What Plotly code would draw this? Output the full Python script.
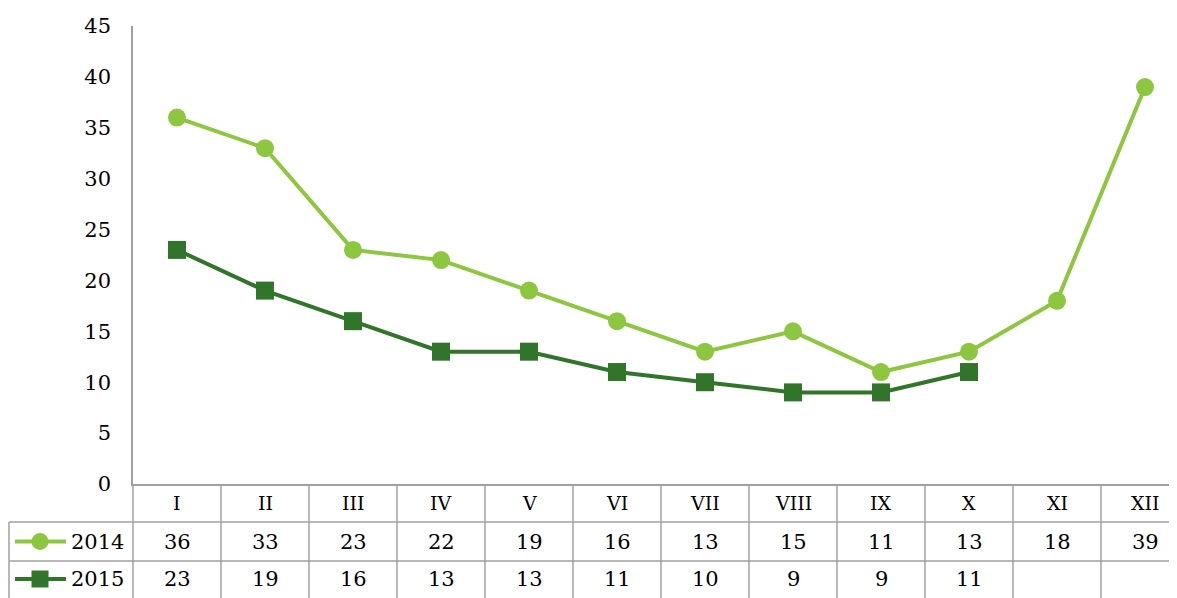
import plotly.graph_objects as go

# ---- data ----
months = ["I", "II", "III", "IV", "V", "VI", "VII", "VIII", "IX", "X", "XI", "XII"]
y2014 = [36, 33, 23, 22, 19, 16, 13, 15, 11, 13, 18, 39]
y2015 = [23, 19, 16, 13, 13, 11, 10, 9, 9, 11, None, None]
series_names = ["2014", "2015"]
ytick_vals = [0, 5, 10, 15, 20, 25, 30, 35, 40, 45]

# ---- style ----
OFF = 8  # page body margin
SW, SH = 1177, 598  # screen size
W, H = SW - OFF, SH - OFF
AX_L, AX_T, AX_B = 133, 26, 484  # screen pixels
ML, MT, MB = AX_L - OFF, AX_T - OFF, SH - AX_B
C14 = "#8DC63F"
C15 = "#31752A"
GRID = "#a0a0a0"
FONT = "DejaVu Serif"
FS_NUM = 21
FS_ROM = 19
XR = [-0.5, -0.5 + (SW - AX_L) / 88.0]

fig = go.Figure()
fig.add_trace(go.Scatter(x=months, y=y2014, name=series_names[0], mode="lines+markers",
                         line=dict(color=C14, width=4), marker=dict(symbol="circle", size=18, color=C14),
                         cliponaxis=False))
fig.add_trace(go.Scatter(x=months, y=y2015, name=series_names[1], mode="lines+markers",
                         line=dict(color=C15, width=4), marker=dict(symbol="square", size=18, color=C15),
                         cliponaxis=False))

plot_w = W - ML
plot_h = H - MT - MB


def px_x(i):
    return (i - XR[0]) / (XR[1] - XR[0])


def pix_x(p):  # screen x -> paper
    return (p - AX_L) / plot_w


def pix_y(p):  # screen y -> paper
    return (AX_B - p) / plot_h


shapes = []
y_top = pix_y(485)
y_r1 = pix_y(522)
y_r2 = pix_y(561)
y_bot = pix_y(600)
for k in range(len(months) + 1):
    xx = px_x(k - 0.5)
    if xx <= 1.0:
        shapes.append(dict(type="line", xref="paper", yref="paper", x0=xx, x1=xx, y0=y_top, y1=y_bot,
                           line=dict(color=GRID, width=1.5)))
shapes.append(dict(type="line", xref="paper", yref="paper", x0=pix_x(9), x1=pix_x(9), y0=y_r1, y1=y_bot,
                   line=dict(color=GRID, width=1.5)))
for yy in (y_r1, y_r2):
    shapes.append(dict(type="line", xref="paper", yref="paper", x0=pix_x(9), x1=1, y0=yy, y1=yy,
                       line=dict(color=GRID, width=1.5)))

annotations = []
row_y = [pix_y(503.5), pix_y(541.5), pix_y(579)]
for i, m in enumerate(months):
    annotations.append(dict(x=i, y=row_y[0], xref="x", yref="paper", text=m, showarrow=False,
                            font=dict(family=FONT, size=FS_ROM, color="black"), yanchor="middle"))
for r, vals in enumerate([y2014, y2015]):
    for i, v in enumerate(vals):
        if v is not None:
            annotations.append(dict(x=i, y=row_y[r + 1], xref="x", yref="paper", text=str(v), showarrow=False,
                                    font=dict(family=FONT, size=FS_NUM, color="black"), yanchor="middle"))

# legend keys in table
for r, (nm, col, sym) in enumerate([(series_names[0], C14, "circle"), (series_names[1], C15, "rect")]):
    yc = row_y[r + 1]
    shapes.append(dict(type="line", xref="paper", yref="paper", x0=pix_x(15), x1=pix_x(66), y0=yc, y1=yc,
                       line=dict(color=col, width=4)))
    half = 8.5
    shapes.append(dict(type="circle" if sym == "circle" else "rect", xref="paper", yref="paper",
                       x0=pix_x(40 - half), x1=pix_x(40 + half), y0=yc - half / plot_h, y1=yc + half / plot_h,
                       fillcolor=col, line=dict(width=0)))
    annotations.append(dict(x=pix_x(69), y=yc, xref="paper", yref="paper", text=nm, showarrow=False,
                            xanchor="left", yanchor="middle", font=dict(family=FONT, size=FS_NUM, color="black")))

fig.update_layout(
    width=W, height=H,
    margin=dict(l=ML, r=0, t=MT, b=MB, pad=0),
    paper_bgcolor="white", plot_bgcolor="white",
    showlegend=False,
    font=dict(family=FONT, size=FS_NUM, color="black"),
    xaxis=dict(type="category", range=XR, showticklabels=False, showgrid=False, zeroline=False,
               showline=True, linecolor=GRID, linewidth=1.5, ticks=""),
    yaxis=dict(range=[0, 45], tickvals=ytick_vals, showgrid=False, zeroline=False, showline=True,
               linecolor=GRID, linewidth=1.5, ticks="", ticklabelstandoff=16,
               tickfont=dict(family=FONT, size=FS_NUM, color="black")),
    shapes=shapes, annotations=annotations,
)

fig.write_html("out.html")
